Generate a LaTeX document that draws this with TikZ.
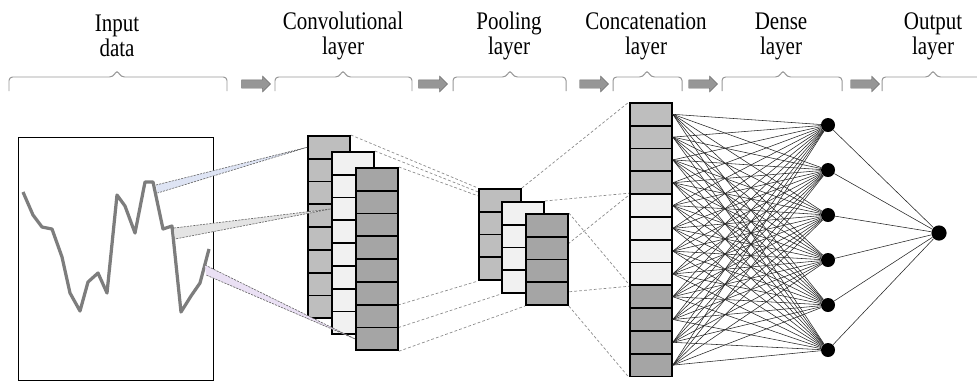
\documentclass[tikz,border=0pt]{standalone}
\usepackage{fontspec}
\setmainfont{Liberation Serif}
\newfontfamily\labelFace[FakeStretch=0.83]{Liberation Serif}
\usetikzlibrary{shapes.arrows,backgrounds}
\definecolor{mapMid}{RGB}{190,190,190}
\definecolor{mapLight}{RGB}{241,241,241}
\definecolor{mapDark}{RGB}{165,165,165}
\definecolor{arrowGray}{RGB}{150,150,150}
\definecolor{braceGray}{RGB}{150,150,150}
\definecolor{signalGray}{RGB}{125,125,125}
\definecolor{beamBlue}{RGB}{222,228,244}
\definecolor{beamGray}{RGB}{228,228,228}
\definecolor{beamLilac}{RGB}{234,224,244}
\newcommand{\pxUnit}{0.025cm}
\newcommand{\cellHeight}{22.8}
\newcommand{\layerFont}{\labelFace\fontsize{18}{17.7}\selectfont}
\newcommand{\featureMap}[5]{%
   \foreach \i in {1,...,#4}
   {%
      \node[cell, fill=#5] (#1-\i) at (#2,{#3+(\i-1)*\cellHeight}) {};
   }
}
\newcommand{\layerBracket}[3]{%
   \draw[bracket] (#1,91) -- (#1,77) -- ({#2-4},77) -- (#2,70) -- ({#2+4},77) -- (#3,77) -- (#3,91);
}
\tikzset{
   cell/.style={draw=black, line width=1.3pt, minimum width=1.05cm, minimum height=0.57cm, inner sep=0pt, anchor=north west},
   layerlabel/.style={align=center, font=\layerFont},
   bracket/.style={draw=braceGray, line width=0.7pt, rounded corners=2.5pt},
   flowarrow/.style={single arrow, draw=arrowGray!75!black, fill=arrowGray, line width=0.3pt, inner xsep=0pt, inner ysep=0.1cm, minimum height=0.72cm, single arrow head extend=0.09cm},
   signal/.style={draw=signalGray, line width=2.3pt, line join=round},
   beamedge/.style={draw=black!60, dash pattern=on 1.5pt off 0.8pt, line width=0.45pt},
   guide/.style={draw=black!45, dash pattern=on 2pt off 1.5pt, line width=0.5pt},
   neuron/.style={circle, fill=black, minimum size=0.35cm, inner sep=0pt},
   synapse/.style={draw=black!85, line width=0.4pt}
}
\begin{document}
\begin{tikzpicture}[x=\pxUnit, y=-\pxUnit]
   \useasboundingbox (0,0) rectangle (977,383);

   \node[layerlabel] (lblInput) at (117,36) {Input\\data};
   \node[layerlabel] (lblConv) at (343,36) {Convolutional\\layer};
   \node[layerlabel] (lblPool) at (509,36) {Pooling\\layer};
   \node[layerlabel] (lblConcat) at (646,36) {Concatenation\\layer};
   \node[layerlabel] (lblDense) at (781,36) {Dense\\layer};
   \node[layerlabel] (lblOut) at (933,36) {Output\\layer};

   \layerBracket{9}{117}{227}
   \layerBracket{275}{343}{412}
   \layerBracket{453}{510}{566}
   \layerBracket{613}{647}{682}
   \layerBracket{722}{783}{842}
   \layerBracket{882}{933}{995}

   \node[flowarrow] (go1) at (254,84) {};
   \node[flowarrow] (go2) at (431,84) {};
   \node[flowarrow] (go3) at (592,84) {};
   \node[flowarrow] (go4) at (701,84) {};
   \node[flowarrow] (go5) at (863,84) {};

   % input signal
   \node[draw, line width=1pt, minimum width=4.875cm, minimum height=6.075cm, inner sep=0pt, anchor=north west] (inbox) at (18,137) {};
   \draw[signal] plot coordinates {(23,192) (33,215) (42,227) (52,229) (62,257) (70,293) (80,311) (88,282) (98,273) (107,293) (117,195) (125,206) (135,233) (145,182) (153,182) (163,229) (172,226) (181,312) (191,296) (200,283) (209,249)};

   \featureMap{cv1}{307}{135}{8}{mapMid}
   \featureMap{cv2}{331}{151}{8}{mapLight}
   \featureMap{cv3}{355}{167}{8}{mapDark}

   \featureMap{pl1}{478}{188}{4}{mapMid}
   \featureMap{pl2}{501}{201}{4}{mapLight}
   \featureMap{pl3}{525}{213}{4}{mapDark}

   \foreach \i/\shade in {1/mapMid,2/mapMid,3/mapMid,4/mapMid,5/mapLight,6/mapLight,7/mapLight,8/mapLight,9/mapDark,10/mapDark,11/mapDark,12/mapDark}
   {%
      \node[cell, fill=\shade] (cc\i) at (629,{102+(\i-1)*\cellHeight}) {};
   }

   \foreach \j in {1,...,6}
   {%
      \node[neuron] (dn\j) at (828,{125+(\j-1)*45}) {};
   }
   \node[neuron, minimum size=0.38cm] (out) at (939,233) {};

   \begin{pgfonlayer}{background}
      \foreach \k in {1,2,3}
      {%
         \draw[guide] (cv\k-1.north east) -- (pl\k-1.north west);
         \draw[guide] (cv\k-8.south east) -- (pl\k-4.south west);
      }
      \draw[guide] (pl1-1.north east) -- (cc1.north west);
      \draw[guide] (pl1-4.south east) -- (cc4.south west);
      \draw[guide] (pl2-1.north east) -- (cc5.north west);
      \draw[guide] (pl2-4.south east) -- (cc8.south west);
      \draw[guide] (pl3-1.north east) -- (cc9.north west);
      \draw[guide] (pl3-4.south east) -- (cc12.south west);
   \end{pgfonlayer}

   \foreach \i in {1,...,12}
   {%
      \foreach \j in {1,...,6}
      {%
         \draw[synapse] (cc\i.east) -- (dn\j);
      }
   }
   \foreach \j in {1,...,6}
   {%
      \draw[synapse] (dn\j) -- (out);
   }

   % windows into the first feature maps
   \coordinate (w1a) at (156,185);
   \coordinate (w1b) at (157.5,193);
   \coordinate (w2a) at (174,228);
   \coordinate (w2b) at (175,239);
   \coordinate (w3a) at (205,265);
   \coordinate (w3b) at (206,275);
   \fill[beamBlue] (w1a) -- (cv1-1.west) -- (w1b) -- cycle;
   \draw[beamedge] (w1a) -- (cv1-1.west) -- (w1b);
   \fill[beamGray] (w2a) -- (cv2-3.west) -- (w2b) -- cycle;
   \draw[beamedge] (w2a) -- (cv2-3.west) -- (w2b);
   \fill[beamLilac] (w3a) -- (cv3-8.west) -- (w3b) -- cycle;
   \draw[beamedge] (w3a) -- (cv3-8.west) -- (w3b);
\end{tikzpicture}
\end{document}
